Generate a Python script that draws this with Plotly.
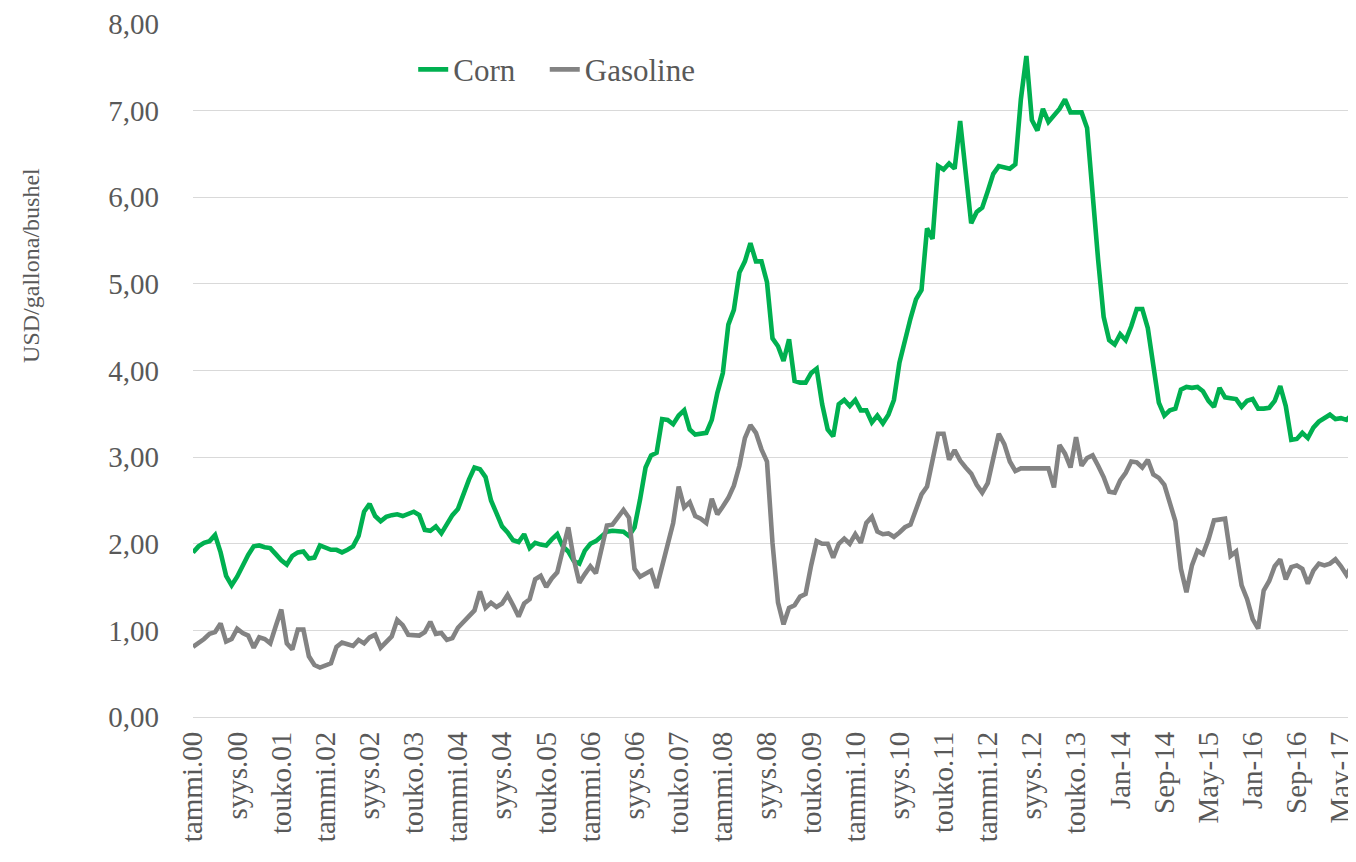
import pandas as pd
import plotly.graph_objects as go

# Monthly observations, Jan 2000 .. Jul 2017
MONTHS = [p.strftime("%Y-%m") for p in pd.period_range("2000-01", "2017-07", freq="M")]

CORN = [
    1.90, 1.97, 2.01, 2.03, 2.10, 1.90, 1.63, 1.52, 1.62, 1.75, 1.87, 1.97,  # 2000
    1.98, 1.96, 1.95, 1.88, 1.81, 1.76, 1.86, 1.90, 1.91, 1.83, 1.84, 1.98,  # 2001
    1.96, 1.93, 1.93, 1.90, 1.93, 1.97, 2.09, 2.37, 2.46, 2.32, 2.26, 2.31,  # 2002
    2.33, 2.34, 2.32, 2.34, 2.37, 2.33, 2.16, 2.15, 2.20, 2.12, 2.22, 2.33,  # 2003
    2.40, 2.59, 2.74, 2.88, 2.86, 2.77, 2.50, 2.35, 2.20, 2.13, 2.04, 2.02,  # 2004
    2.11, 1.95, 2.01, 1.99, 1.98, 2.05, 2.11, 1.97, 1.91, 1.80, 1.77, 1.92,  # 2005
    2.00, 2.03, 2.08, 2.14, 2.15, 2.14, 2.14, 2.09, 2.19, 2.51, 2.88, 3.02,  # 2006
    3.05, 3.44, 3.43, 3.38, 3.48, 3.54, 3.32, 3.26, 3.27, 3.28, 3.43, 3.74,  # 2007
    3.97, 4.53, 4.70, 5.13, 5.26, 5.47, 5.26, 5.26, 5.02, 4.37, 4.28, 4.11,  # 2008
    4.36, 3.88, 3.86, 3.86, 3.97, 4.02, 3.61, 3.32, 3.24, 3.61, 3.66, 3.59,  # 2009
    3.66, 3.54, 3.54, 3.40, 3.48, 3.39, 3.49, 3.66, 4.09, 4.36, 4.60, 4.82,  # 2010
    4.93, 5.64, 5.52, 6.36, 6.32, 6.39, 6.33, 6.88, 6.34, 5.70, 5.83, 5.88,  # 2011
    6.07, 6.27, 6.36, 6.34, 6.33, 6.38, 7.13, 7.63, 6.89, 6.77, 7.02, 6.87,  # 2012
    6.95, 7.02, 7.13, 6.98, 6.98, 6.98, 6.80, 5.99, 5.28, 4.62, 4.35, 4.30,  # 2013
    4.42, 4.35, 4.51, 4.71, 4.71, 4.49, 4.05, 3.63, 3.48, 3.54, 3.56, 3.78,  # 2014
    3.81, 3.80, 3.81, 3.76, 3.65, 3.58, 3.80, 3.69, 3.68, 3.67, 3.58, 3.65,  # 2015
    3.67, 3.56, 3.56, 3.57, 3.65, 3.82, 3.59, 3.20, 3.21, 3.28, 3.22, 3.34,  # 2016
    3.41, 3.45, 3.49, 3.44, 3.45, 3.43, 3.49,                                # 2017
]

GASOLINE = [
    0.81, 0.85, 0.90, 0.96, 0.98, 1.08, 0.87, 0.90, 1.02, 0.97, 0.94, 0.80,  # 2000
    0.92, 0.90, 0.85, 1.05, 1.24, 0.85, 0.78, 1.01, 1.01, 0.70, 0.60, 0.57,  # 2001
    0.60, 0.62, 0.81, 0.86, 0.84, 0.82, 0.89, 0.85, 0.92, 0.95, 0.80, 0.87,  # 2002
    0.93, 1.12, 1.06, 0.95, 0.95, 0.94, 0.98, 1.10, 0.96, 0.97, 0.89, 0.91,  # 2003
    1.03, 1.10, 1.17, 1.23, 1.45, 1.26, 1.32, 1.27, 1.31, 1.41, 1.29, 1.16,  # 2004
    1.31, 1.36, 1.59, 1.63, 1.50, 1.60, 1.67, 1.92, 2.19, 1.82, 1.55, 1.65,  # 2005
    1.74, 1.66, 1.95, 2.21, 2.22, 2.30, 2.39, 2.30, 1.71, 1.62, 1.66, 1.69,  # 2006
    1.49, 1.75, 1.96, 2.24, 2.66, 2.42, 2.48, 2.32, 2.29, 2.24, 2.52, 2.34,  # 2007
    2.43, 2.53, 2.67, 2.90, 3.22, 3.37, 3.28, 3.09, 2.95, 2.01, 1.32, 1.07,  # 2008
    1.26, 1.29, 1.39, 1.42, 1.75, 2.03, 2.00, 2.00, 1.84, 2.00, 2.06, 2.00,  # 2009
    2.11, 2.01, 2.24, 2.31, 2.14, 2.11, 2.12, 2.08, 2.13, 2.19, 2.22, 2.41,  # 2010
    2.57, 2.66, 3.00, 3.27, 3.27, 2.97, 3.08, 2.96, 2.88, 2.81, 2.68, 2.59,  # 2011
    2.70, 2.99, 3.27, 3.15, 2.95, 2.84, 2.87, 2.87, 2.87, 2.87, 2.87, 2.87,  # 2012
    2.65, 3.14, 3.04, 2.88, 3.23, 2.90, 2.99, 3.02, 2.90, 2.77, 2.60, 2.59,  # 2013
    2.73, 2.82, 2.95, 2.94, 2.88, 2.97, 2.80, 2.76, 2.68, 2.48, 2.26, 1.71,  # 2014
    1.44, 1.75, 1.92, 1.88, 2.05, 2.27, 2.28, 2.29, 1.86, 1.91, 1.52, 1.36,  # 2015
    1.13, 1.02, 1.46, 1.57, 1.74, 1.82, 1.59, 1.73, 1.75, 1.71, 1.54, 1.69,  # 2016
    1.77, 1.75, 1.77, 1.82, 1.74, 1.64, 1.75,                                # 2017
]

TICK_LABELS = [
    "tammi.00", "syys.00", "touko.01", "tammi.02", "syys.02", "touko.03",
    "tammi.04", "syys.04", "touko.05", "tammi.06", "syys.06", "touko.07",
    "tammi.08", "syys.08", "touko.09", "tammi.10", "syys.10", "touko.11",
    "tammi.12", "syys.12", "touko.13", "Jan-14", "Sep-14", "May-15",
    "Jan-16", "Sep-16", "May-17",
]
TICK_STEP = 8

SERIES = [
    ("Corn", CORN, "#00B050", "legend"),
    ("Gasoline", GASOLINE, "#838383", "legend2"),
]

FONT = "Liberation Serif"
TXT = "#595959"

fig = go.Figure()
for name, vals, color, leg in SERIES:
    fig.add_trace(go.Scatter(
        x=MONTHS, y=vals, name=name, mode="lines",
        line=dict(color=color, width=4.6), legend=leg,
    ))

legend_style = dict(
    orientation="h", y=0.934, xanchor="left", yanchor="middle",
    font=dict(family=FONT, size=31, color=TXT),
    bgcolor="rgba(0,0,0,0)", itemwidth=30,
)

# page body adds an 8px offset, so the figure is 8px smaller than the window
fig.update_layout(
    width=1348, height=854,
    margin=dict(l=185, r=0, t=16, b=145),
    paper_bgcolor="white", plot_bgcolor="white",
    separators=", ",
    font=dict(family=FONT, size=29, color=TXT),
    showlegend=True,
    legend=dict(x=0.190, **legend_style),
    legend2=dict(x=0.3035, **legend_style),
    annotations=[dict(
        text="USD/gallona/bushel", textangle=-90,
        xref="paper", yref="paper", x=-0.140, y=0.652,
        xanchor="center", yanchor="middle", showarrow=False,
        font=dict(family=FONT, size=24, color=TXT),
    )],
)

fig.update_xaxes(
    type="category",
    range=[0, len(MONTHS) - 1],
    tickmode="array",
    tickvals=MONTHS[::TICK_STEP],
    ticktext=TICK_LABELS,
    tickangle=-90,
    showgrid=False, zeroline=False,
    showline=False, ticks="",
    ticklabelstandoff=8,
    tickfont=dict(family=FONT, size=29, color=TXT),
)
fig.update_yaxes(
    range=[0, 8], dtick=1, tick0=0,
    tickformat=".2f",
    showgrid=True, gridcolor="#D9D9D9", gridwidth=1.3,
    zeroline=True, zerolinecolor="#D9D9D9", zerolinewidth=1.3,
    showline=False, ticks="",
    ticklabelstandoff=33,
    tickfont=dict(family=FONT, size=29, color=TXT),
)

fig.write_html("out.html")
